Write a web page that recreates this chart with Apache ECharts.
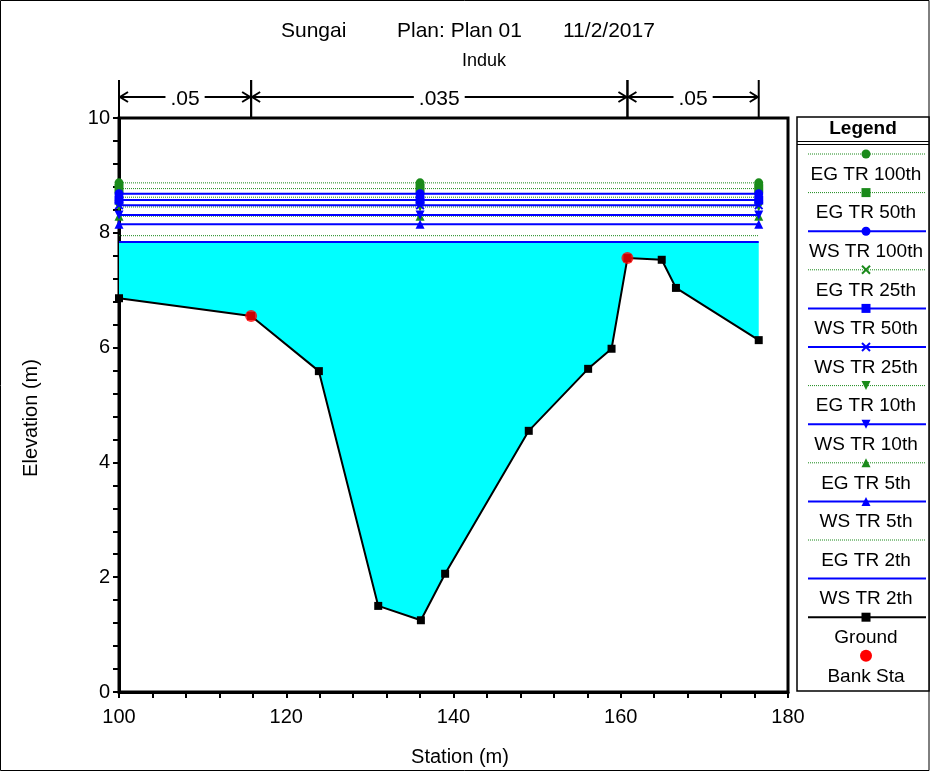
<!DOCTYPE html>
<html>
<head>
<meta charset="utf-8">
<title>Sungai - Induk</title>
<script src="https://cdn.jsdelivr.net/npm/echarts@6/dist/echarts.min.js"></script>
<style>
  html, body { margin: 0; padding: 0; background: #fff; }
  #chart { width: 930px; height: 772px; }
</style>
</head>
<body>
<div id="chart"></div>
<script>
// Cross-section ground profile (station m, elevation m)
const groundSta  = [100, 115.8, 123.9, 131.0, 136.1, 139.0, 149.0, 156.1, 158.9, 160.8, 164.9, 166.6, 176.5];
const groundElev = [6.86, 6.55, 5.59, 1.50, 1.25, 2.06, 4.55, 5.63, 5.98, 7.56, 7.53, 7.04, 6.13];

// Bank stations
const bankSta  = [115.8, 160.8];
const bankElev = [6.55, 7.56];

// Water surface (WS) and energy grade (EG) elevations per return period
const profileNames = ['EG TR 100th', 'EG TR 50th', 'WS TR 100th', 'EG TR 25th', 'WS TR 50th', 'WS TR 25th',
                      'EG TR 10th', 'WS TR 10th', 'EG TR 5th', 'WS TR 5th', 'EG TR 2th', 'WS TR 2th'];
const profileElev  = [8.87, 8.77, 8.68, 8.62, 8.57, 8.48, 8.45, 8.31, 8.29, 8.15, 7.95, 7.84];
const profileMarkerSta = [100, 136, 176.5];

// Manning's n regions
const nBounds = [100, 115.8, 160.8, 176.5];
const nValues = ['.05', '.035', '.05'];

// Axis ticks
const xTicks = [100, 120, 140, 160, 180];
const yTicks = [0, 2, 4, 6, 8, 10];

const FONT = '"Liberation Sans", Arial, sans-serif';
const EG_COLOR = '#1a8a1a';
const WS_COLOR = '#0000ff';

const X_MARK = 'path://M0,1.5L1.5,0L5,3.5L8.5,0L10,1.5L6.5,5L10,8.5L8.5,10L5,6.5L1.5,10L0,8.5L3.5,5Z';
const TRI_DOWN = 'path://M0,0L10,0L5,9Z';
const profileSymbols = ['circle', 'rect', 'circle', X_MARK, 'rect', X_MARK,
                        TRI_DOWN, TRI_DOWN, 'triangle', 'triangle', 'none', 'none'];

const chart = echarts.init(document.getElementById('chart'), null, { renderer: 'canvas' });

const gridL = 119, gridT = 118, gridW = 669, gridH = 574;

const series = [];

// Wetted area between ground and the lowest water surface
series.push({
  type: 'custom',
  coordinateSystem: 'cartesian2d',
  silent: true,
  z: 1,
  data: [[groundSta[0], profileElev[profileElev.length - 1]]],
  renderItem: function (params, api) {
    const ws = profileElev[profileElev.length - 1];
    const pts = groundSta.map((s, i) => api.coord([s, groundElev[i]]));
    pts.push(api.coord([groundSta[groundSta.length - 1], ws]));
    pts.push(api.coord([groundSta[0], ws]));
    return { type: 'polygon', shape: { points: pts }, style: { fill: '#00ffff' } };
  }
});

// Profiles (EG dotted green, WS solid blue)
profileNames.forEach((name, i) => {
  const isEG = name.startsWith('EG');
  const color = isEG ? EG_COLOR : WS_COLOR;
  series.push({
    name: name,
    type: 'line',
    z: isEG ? 2 : 3,
    silent: true,
    data: profileMarkerSta.map(s => [s, profileElev[i]]),
    symbol: profileSymbols[i],
    symbolSize: profileSymbols[i] === 'none' ? 0 : 9,
    showSymbol: profileSymbols[i] !== 'none',
    lineStyle: { color: color, width: isEG ? 1 : 2, type: isEG ? 'dotted' : 'solid' },
    itemStyle: { color: color },
    animation: false
  });
});

// Ground
series.push({
  name: 'Ground',
  type: 'line',
  z: 4,
  silent: true,
  data: groundSta.map((s, i) => [s, groundElev[i]]),
  symbol: 'rect',
  symbolSize: 8,
  lineStyle: { color: '#000', width: 2 },
  itemStyle: { color: '#000' },
  animation: false
});

// Bank stations
series.push({
  name: 'Bank Sta',
  type: 'scatter',
  z: 5,
  silent: true,
  data: bankSta.map((s, i) => [s, bankElev[i]]),
  symbol: 'circle',
  symbolSize: 12,
  itemStyle: { color: '#ff0000' },
  animation: false
});

// Manning's n regions above the plot
series.push({
  type: 'custom',
  coordinateSystem: 'cartesian2d',
  silent: true,
  clip: false,
  z: 6,
  data: nValues.map((v, i) => [nBounds[i], nBounds[i + 1]]),
  renderItem: function (params, api) {
    const top = api.coord([nBounds[0], 10])[1];
    const x0 = api.coord([api.value(0), 10])[0];
    const x1 = api.coord([api.value(1), 10])[0];
    const y = top - 21;
    const st = { stroke: '#000', lineWidth: 2, fill: null };
    const children = [
      { type: 'line', shape: { x1: x0, y1: top - 38, x2: x0, y2: top - 1 }, style: st },
      { type: 'line', shape: { x1: x1, y1: top - 38, x2: x1, y2: top - 1 }, style: st },
      { type: 'line', shape: { x1: x0, y1: y, x2: x1, y2: y }, style: st },
      { type: 'polyline', shape: { points: [[x0 + 9, y - 5], [x0 + 1, y], [x0 + 9, y + 5]] }, style: st },
      { type: 'polyline', shape: { points: [[x1 - 9, y - 5], [x1 - 1, y], [x1 - 9, y + 5]] }, style: st },
      { type: 'text', style: {
          x: (x0 + x1) / 2, y: y + 2, text: nValues[params.dataIndex],
          align: 'center', verticalAlign: 'middle',
          font: '21px ' + FONT, fill: '#000',
          backgroundColor: '#fff', padding: [0, 5]
      } }
    ];
    return { type: 'group', children: children };
  }
});

// Legend panel
const legendEntries = profileNames.map((n, i) => ({
  name: n,
  line: n.startsWith('EG') ? 'eg' : 'ws',
  color: n.startsWith('EG') ? EG_COLOR : WS_COLOR,
  symbol: profileSymbols[i]
}));
legendEntries.push({ name: 'Ground', line: 'ground', color: '#000', symbol: 'rect' });
legendEntries.push({ name: 'Bank Sta', line: 'none', color: '#ff0000', symbol: 'bank' });

function markerGraphic(sym, cx, cy, color) {
  const s = 4.5;
  switch (sym) {
    case 'circle': return { type: 'circle', shape: { cx: cx, cy: cy, r: s }, style: { fill: color } };
    case 'bank': return { type: 'circle', shape: { cx: cx, cy: cy, r: 6 }, style: { fill: color } };
    case 'rect': return { type: 'rect', shape: { x: cx - s, y: cy - s, width: 2 * s, height: 2 * s }, style: { fill: color } };
    case 'triangle': return { type: 'polygon', shape: { points: [[cx - s, cy + s], [cx + s, cy + s], [cx, cy - s]] }, style: { fill: color } };
    case TRI_DOWN: return { type: 'polygon', shape: { points: [[cx - s, cy - s], [cx + s, cy - s], [cx, cy + s]] }, style: { fill: color } };
    case X_MARK: return { type: 'group', children: [
        { type: 'line', shape: { x1: cx - 4, y1: cy - 4, x2: cx + 4, y2: cy + 4 }, style: { stroke: color, lineWidth: 2 } },
        { type: 'line', shape: { x1: cx + 4, y1: cy - 4, x2: cx - 4, y2: cy + 4 }, style: { stroke: color, lineWidth: 2 } }
      ] };
    default: return null;
  }
}

const legendX = 797, legendY = 117, legendW = 132, legendH = 574;
const legendGraphics = [
  { type: 'rect', shape: { x: legendX, y: legendY, width: legendW, height: legendH },
    style: { fill: '#fff', stroke: '#000', lineWidth: 1.5 } },
  { type: 'text', style: { x: legendX + legendW / 2, y: 129, text: 'Legend', align: 'center', verticalAlign: 'middle',
    font: 'bold 19px ' + FONT, fill: '#000' } },
  { type: 'line', shape: { x1: legendX, y1: 141.5, x2: legendX + legendW, y2: 141.5 }, style: { stroke: '#000', lineWidth: 1 } },
  { type: 'line', shape: { x1: legendX, y1: 144.5, x2: legendX + legendW, y2: 144.5 }, style: { stroke: '#000', lineWidth: 1 } }
];
legendEntries.forEach((e, i) => {
  const ly = 154 + 38.6 * i;
  const cx = 866;
  if (e.line !== 'none') {
    legendGraphics.push({ type: 'line', shape: { x1: 808, y1: ly, x2: 926, y2: ly },
      style: { stroke: e.color, lineWidth: e.line === 'eg' ? 1 : 2, lineDash: e.line === 'eg' ? [1, 1] : null } });
  }
  const m = markerGraphic(e.symbol, cx, ly, e.color);
  if (m) legendGraphics.push(m);
  legendGraphics.push({ type: 'text', style: { x: cx, y: ly + 20.5, text: e.name, align: 'center', verticalAlign: 'middle',
    font: '19px ' + FONT, fill: '#000' } });
});

const option = {
  animation: false,
  backgroundColor: '#fff',
  grid: { left: gridL, top: gridT, width: gridW, height: gridH, show: true, borderColor: '#000', borderWidth: 3, backgroundColor: 'transparent' },
  xAxis: {
    type: 'value', min: xTicks[0], max: xTicks[xTicks.length - 1], interval: 20,
    axisLine: { lineStyle: { color: '#000', width: 3 } },
    axisTick: { show: true, inside: false, length: 6, lineStyle: { color: '#000', width: 2 } },
    minorTick: { show: true, splitNumber: 5, length: 6, lineStyle: { color: '#000', width: 2 } },
    axisLabel: { fontFamily: FONT, fontSize: 20, color: '#000', margin: 15 },
    splitLine: { show: false }
  },
  yAxis: {
    type: 'value', min: yTicks[0], max: yTicks[yTicks.length - 1], interval: 2,
    axisLine: { lineStyle: { color: '#000', width: 3 } },
    axisTick: { show: true, inside: false, length: 6, lineStyle: { color: '#000', width: 2 } },
    minorTick: { show: true, splitNumber: 5, length: 6, lineStyle: { color: '#000', width: 2 } },
    axisLabel: { fontFamily: FONT, fontSize: 20, color: '#000', margin: 9 },
    splitLine: { show: false }
  },
  graphic: [
    { type: 'rect', shape: { x: 0.5, y: 0.5, width: 928.5, height: 770 }, style: { fill: null, stroke: '#000', lineWidth: 1 }, silent: true },
    { type: 'text', style: { x: 281, y: 31, text: 'Sungai', verticalAlign: 'middle', font: '21px ' + FONT, fill: '#000' } },
    { type: 'text', style: { x: 397, y: 31, text: 'Plan: Plan 01', verticalAlign: 'middle', font: '21px ' + FONT, fill: '#000' } },
    { type: 'text', style: { x: 563, y: 31, text: '11/2/2017', verticalAlign: 'middle', font: '21px ' + FONT, fill: '#000' } },
    { type: 'text', style: { x: 484, y: 61, text: 'Induk', align: 'center', verticalAlign: 'middle', font: '18px ' + FONT, fill: '#000' } },
    { type: 'text', style: { x: 460, y: 757, text: 'Station (m)', align: 'center', verticalAlign: 'middle', font: '20px ' + FONT, fill: '#000' } },
    { type: 'text', x: 31, y: 418, rotation: Math.PI / 2,
      style: { x: 0, y: 0, text: 'Elevation (m)', align: 'center', verticalAlign: 'middle', font: '20px ' + FONT, fill: '#000' } },
    { type: 'group', children: legendGraphics, silent: true }
  ],
  series: series
};

chart.setOption(option);
</script>
</body>
</html>
